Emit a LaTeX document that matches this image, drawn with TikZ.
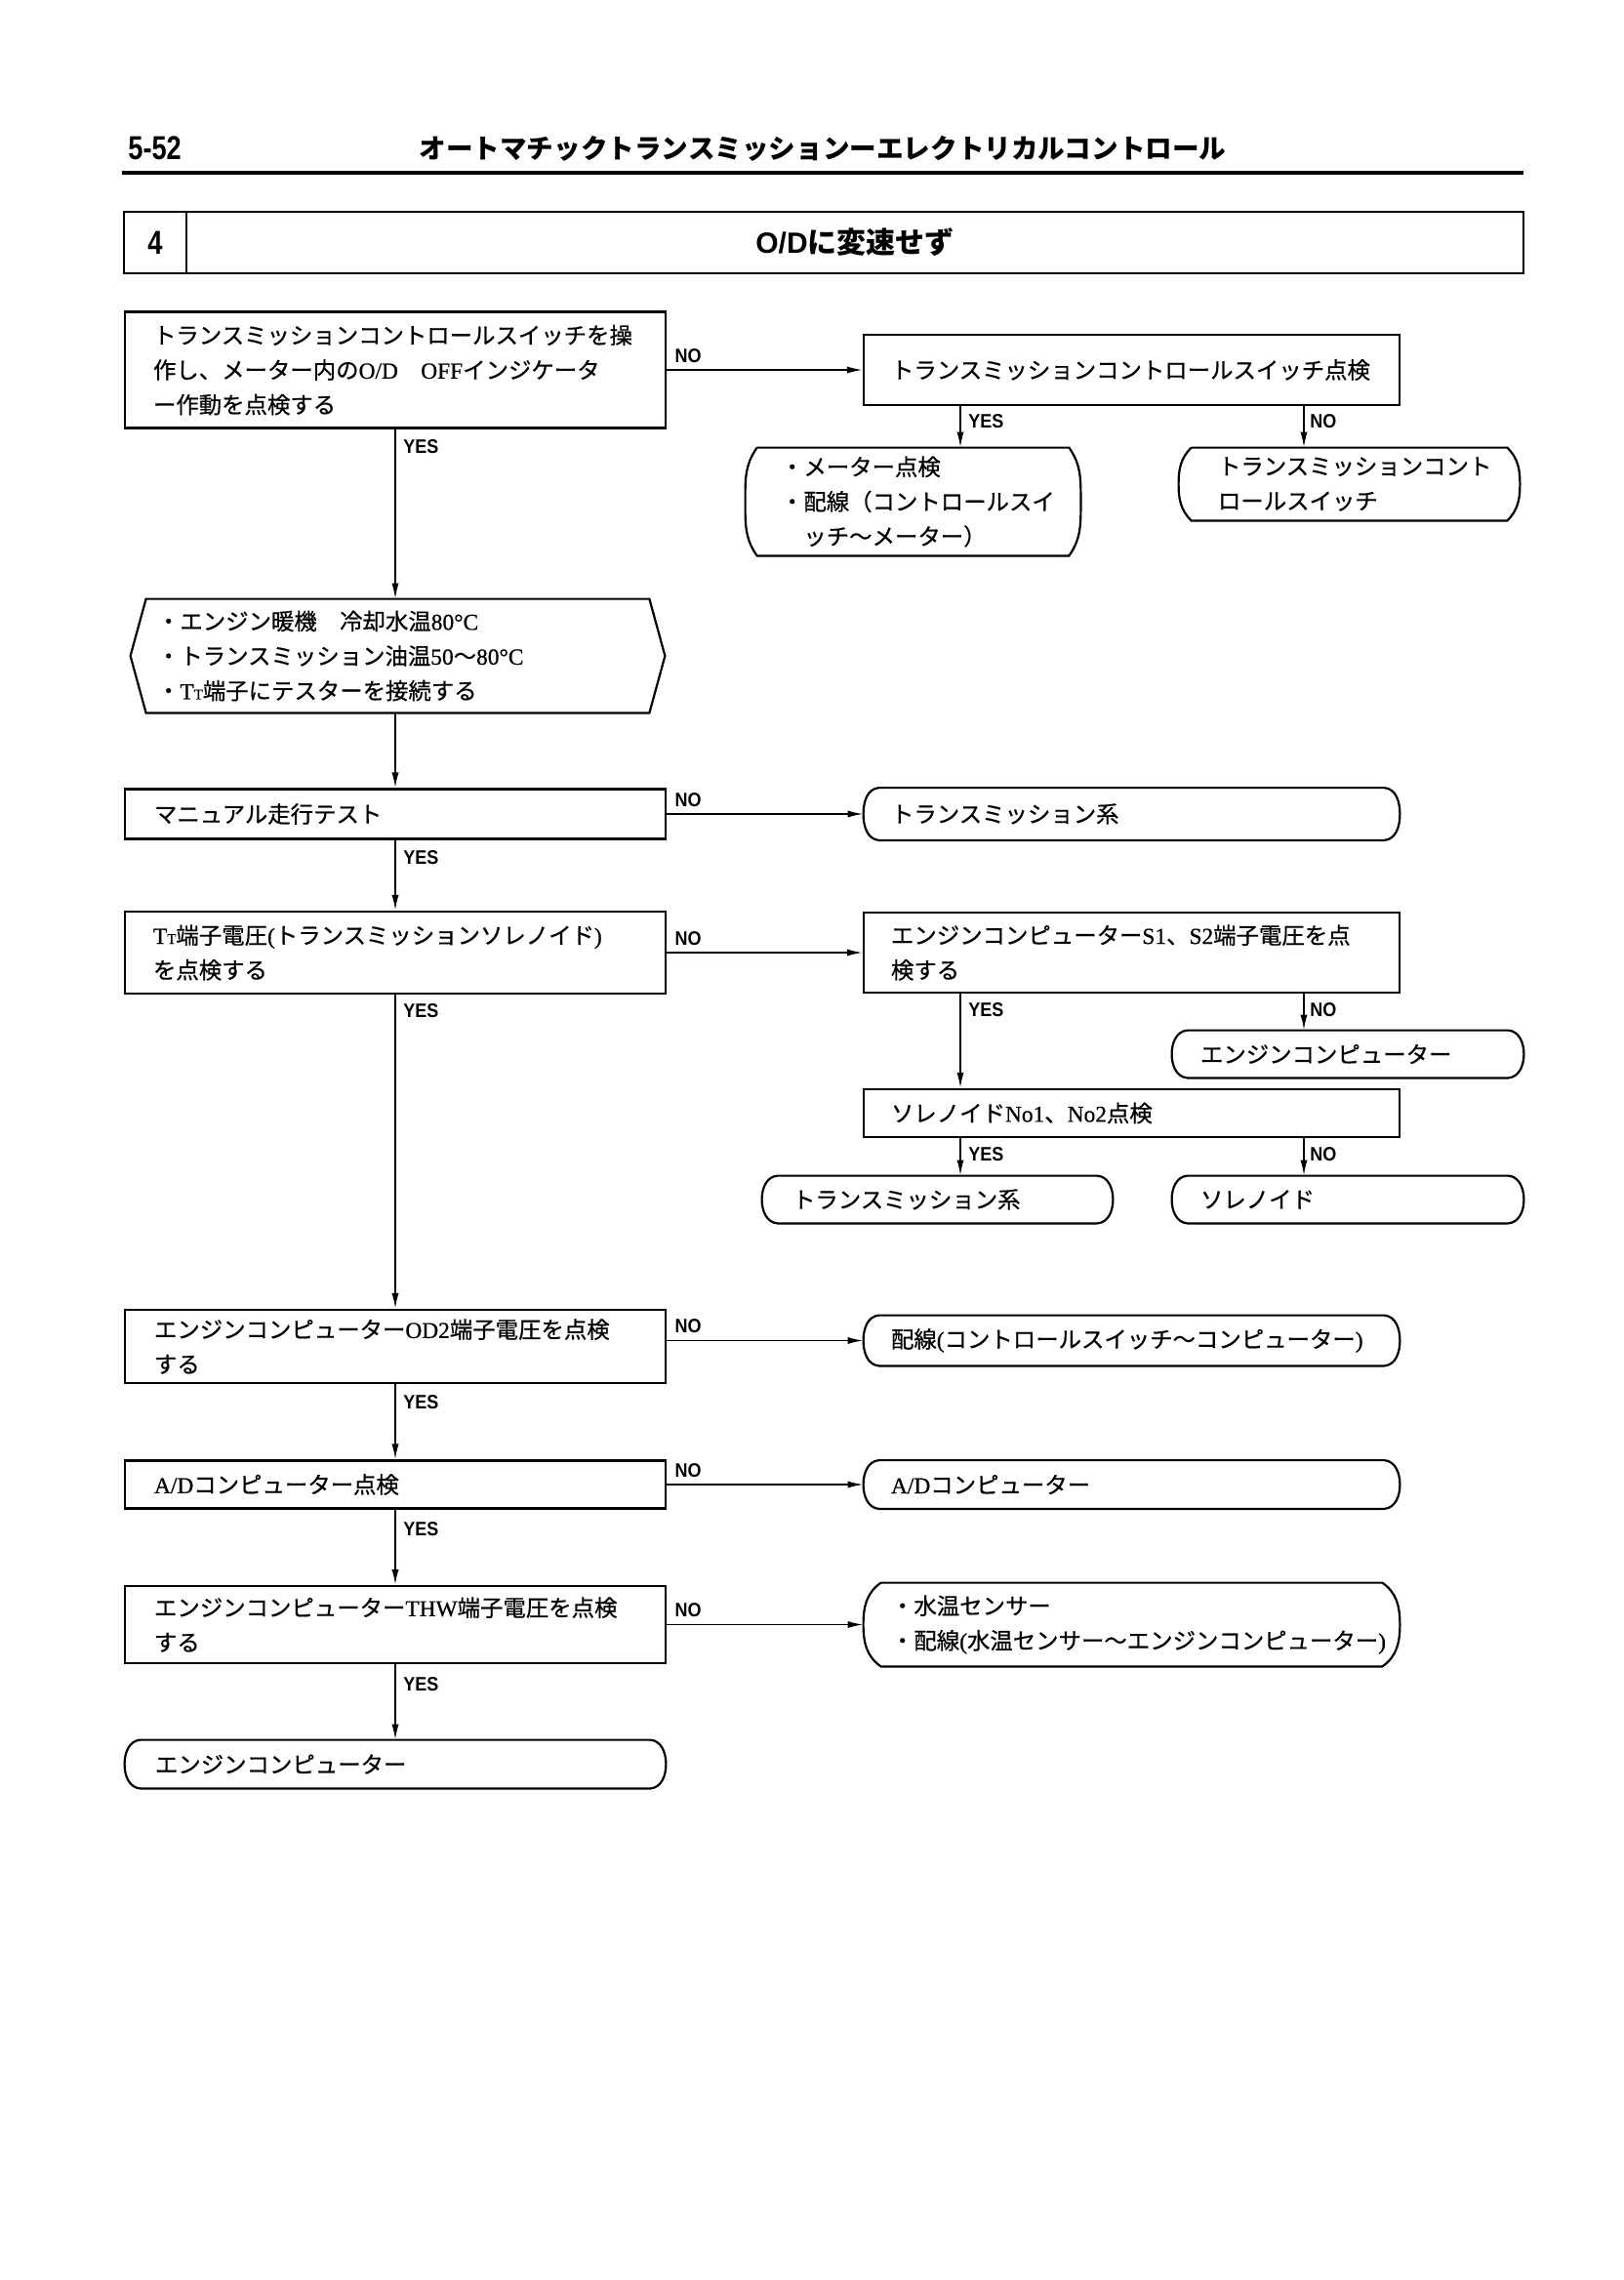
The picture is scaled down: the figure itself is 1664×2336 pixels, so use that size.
\documentclass[tikz,border=0pt]{standalone}
\usepackage{fontspec}
\usetikzlibrary{arrows.meta,calc}
\newfontfamily\jp[FakeBold=0.6]{Noto Sans CJK JP}
\newfontfamily\jph{Noto Sans CJK JP}
\newfontfamily\lt[FakeBold=0.6]{Liberation Serif}
\newfontfamily\hdr[FakeStretch=0.8]{Liberation Sans}
\newfontfamily\lbl[FakeStretch=0.9]{Liberation Sans}
\newfontfamily\ttlsans{Liberation Sans}
\newcommand{\LT}[1]{{\lt #1}}
\newcommand{\TTsub}{{\lt T{\fontsize{7.5}{8}\selectfont T}}}
\tikzset{
  base/.style={font=\jp\fontsize{11.7}{17.8}\selectfont, align=left, inner ysep=0pt},
  box/.style n args={4}{base, draw, line width=1.1pt, minimum width=#1pt, minimum height=#2pt, inner xsep=#3pt, text width=#4pt},
  term/.style n args={4}{base, minimum width=#1pt, minimum height=#2pt, inner xsep=#3pt, text width=#4pt},
  outline/.style={line width=1.1pt},
  arr/.style={-{Latex[length=8pt,width=3.6pt]}, line width=0.9pt},
  lab/.style={font=\lbl\bfseries\fontsize{10}{10}\selectfont, inner sep=0pt},
}
\begin{document}
\begin{tikzpicture}[x=0.5pt,y=-0.5pt]
\fill[white] (0,0) rectangle (1664,2336);
\useasboundingbox (0,0) rectangle (1664,2336);

% header
\node[anchor=west, inner sep=0pt, font=\hdr\bfseries\fontsize{17}{17}\selectfont] (pg) at (131,152) {5-52};
\node[inner sep=0pt, font=\jph\bfseries\fontsize{13.8}{14}\selectfont] (ht) at (843,152) {オートマチックトランスミッションーエレクトリカルコントロール};
\coordinate (rl) at (125,177);
\coordinate (rr) at (1561,177);
\draw[line width=1.6pt] (rl) -- (rr);

% title box
\node[draw, line width=1.2pt, minimum width=32pt, minimum height=31.5pt, inner sep=0pt, font=\hdr\bfseries\fontsize{17}{17}\selectfont] (tn) at (159,248.5) {4};
\node[draw, line width=1.2pt, minimum width=685pt, minimum height=31.5pt, inner sep=0pt] (tt) at (876,248.5) {{\ttlsans\bfseries\fontsize{15}{15}\selectfont O/D}{\jph\bfseries\fontsize{15}{15}\selectfont に変速せず}};

% left column
\node[box={277}{59.5}{14.5}{248}] (b1) at (405,379) {トランスミッションコントロールスイッチを操\\作し、メーター内の\LT{O/D}\hspace{1em}\LT{OFF}インジケータ\\ー作動を点検する};
\node[term={273.5}{58}{13.5}{246.5}] (hex) at (407.5,672) {・エンジン暖機\hspace{1em}冷却水温\LT{80°C}\\・トランスミッション油温\LT{50}〜\LT{80°C}\\・\TTsub 端子にテスターを接続する};
\node[box={277}{25.5}{15}{247}] (b3) at (405,834) {マニュアル走行テスト};
\node[box={277}{42}{14.5}{248}] (b4) at (405,976) {\TTsub 端子電圧\LT{(}トランスミッションソレノイド\LT{)}\\を点検する};
\node[box={277}{37.5}{15}{247}] (b7) at (405,1379.5) {エンジンコンピューター\LT{OD2}端子電圧を点検\\する};
\node[box={277}{24.5}{15}{247}] (b8) at (405,1521) {\LT{A/D}コンピューター点検};
\node[box={277}{39.5}{15}{247}] (b9) at (405,1664.5) {エンジンコンピューター\LT{THW}端子電圧を点検\\する};
\node[term={277}{24.5}{15.5}{246}] (rEnd) at (405,1807.5) {エンジンコンピューター};

% right column
\node[box={274.5}{36}{14}{246.5}] (b2) at (1159.5,379) {トランスミッションコントロールスイッチ点検};
\node[term={171.5}{55}{18}{135.5}] (rA) at (935.5,514) {・メーター点検\\・配線（コントロールスイ\\\hspace*{1em}ッチ〜メーター）};
\node[term={174.5}{37}{20}{134.5}] (rB) at (1382.5,496) {トランスミッションコント\\ロールスイッチ};
\node[term={274.5}{26.5}{14}{246.5}] (r3) at (1159.5,834) {トランスミッション系};
\node[box={274.5}{41}{14}{246.5}] (b5) at (1159.5,976) {エンジンコンピューター\LT{S1}、\LT{S2}端子電圧を点\\検する};
\node[term={180}{24}{14.5}{151}] (rE) at (1381,1080) {エンジンコンピューター};
\node[box={274.5}{24.5}{14}{246.5}] (b6) at (1159.5,1140.5) {ソレノイド\LT{No1}、\LT{No2}点検};
\node[term={179.5}{24}{15.5}{148.5}] (rT2) at (960.5,1229) {トランスミッション系};
\node[term={180}{24}{14.5}{151}] (rS) at (1381,1229) {ソレノイド};
\node[term={274.5}{25.5}{14}{246.5}] (r7) at (1159.5,1373.5) {配線\LT{(}コントロールスイッチ〜コンピューター\LT{)}};
\node[term={274.5}{24.5}{14}{246.5}] (r8) at (1159.5,1521) {\LT{A/D}コンピューター};
\node[term={274.5}{42.5}{14}{246.5}] (r9) at (1159.5,1664.5) {・水温センサー\\・配線\LT{(}水温センサー〜エンジンコンピューター\LT{)}};

% hexagon outline
\draw[outline] ([xshift=8pt]hex.north west) -- ([xshift=-8pt]hex.north east) -- (hex.east) -- ([xshift=-8pt]hex.south east) -- ([xshift=8pt]hex.south west) -- (hex.west) -- cycle;

% terminal outlines
\foreach \n/\d/\a in {rA/6/55, rB/6.5/45, r3/8/5, rE/8/5, rT2/8/5, rS/8/5, r7/8/5, r8/8/5, r9/9/35, rEnd/8/5}{
  \pgfmathtruncatemacro\bb{180-\a}
  \pgfmathtruncatemacro\cc{180+\a}
  \draw[outline] ([xshift=\d pt]\n.north west) -- ([xshift=-\d pt]\n.north east)
    to[out=-\a,in=90] (\n.east) to[out=-90,in=\a] ([xshift=-\d pt]\n.south east)
    -- ([xshift=\d pt]\n.south west)
    to[out=\bb,in=-90] (\n.west) to[out=90,in=\cc] ([xshift=\d pt]\n.north west);
}

% column coordinates
\coordinate (colY) at (984,0);
\coordinate (colN) at (1336,0);

% connectors left
\draw[arr] (b1.east) -- (b2.west);
\draw[arr] (b1.south) -- (b1.south |- hex.north);
\draw[arr] (hex.south -| b3.north) -- (b3.north);
\draw[arr] (b3.east) -- (r3.west);
\draw[arr] (b3.south) -- (b4.north);
\draw[arr] (b4.east) -- (b5.west);
\draw[arr] (b4.south) -- (b7.north);
\draw[arr] (b7.east |- r7.west) -- (r7.west);
\draw[arr] (b7.south) -- (b8.north);
\draw[arr] (b8.east) -- (r8.west);
\draw[arr] (b8.south) -- (b9.north);
\draw[arr] (b9.east |- r9.west) -- (r9.west);
\draw[arr] (b9.south) -- (rEnd.north);

% connectors right
\draw[arr] (b2.south -| colY) -- (rA.north -| colY);
\draw[arr] (b2.south -| colN) -- (rB.north -| colN);
\draw[arr] (b5.south -| colY) -- (b6.north -| colY);
\draw[arr] (b5.south -| colN) -- (rE.north -| colN);
\draw[arr] (b6.south -| colY) -- (rT2.north -| colY);
\draw[arr] (b6.south -| colN) -- (rS.north -| colN);

% labels
\node[lab, anchor=west] (y1) at ($(b1.south)+(4pt,-9pt)$) {YES};
\node[lab, anchor=base west] (n1) at ($(b1.east)+(4pt,4pt)$) {NO};
\node[lab, anchor=west] (y2) at ($(b2.south -| colY)+(4pt,-8pt)$) {YES};
\node[lab, anchor=west] (n2) at ($(b2.south -| colN)+(3pt,-8pt)$) {NO};
\node[lab, anchor=base west] (n3) at ($(b3.east)+(4pt,4pt)$) {NO};
\node[lab, anchor=west] (y3) at ($(b3.south)+(4pt,-9pt)$) {YES};
\node[lab, anchor=base west] (n4) at ($(b4.east)+(4pt,4pt)$) {NO};
\node[lab, anchor=west] (y4) at ($(b4.south)+(4pt,-8pt)$) {YES};
\node[lab, anchor=west] (y5) at ($(b5.south -| colY)+(4pt,-8pt)$) {YES};
\node[lab, anchor=west] (n5) at ($(b5.south -| colN)+(3pt,-8pt)$) {NO};
\node[lab, anchor=west] (y6) at ($(b6.south -| colY)+(4pt,-8pt)$) {YES};
\node[lab, anchor=west] (n6) at ($(b6.south -| colN)+(3pt,-8pt)$) {NO};
\node[lab, anchor=base west] (n7) at ($(b7.east |- r7.west)+(4pt,4pt)$) {NO};
\node[lab, anchor=west] (y7) at ($(b7.south)+(4pt,-9pt)$) {YES};
\node[lab, anchor=base west] (n8) at ($(b8.east)+(4pt,4pt)$) {NO};
\node[lab, anchor=west] (y8) at ($(b8.south)+(4pt,-10pt)$) {YES};
\node[lab, anchor=base west] (n9) at ($(b9.east |- r9.west)+(4pt,4pt)$) {NO};
\node[lab, anchor=west] (y9) at ($(b9.south)+(4pt,-10pt)$) {YES};
\end{tikzpicture}
\end{document}
